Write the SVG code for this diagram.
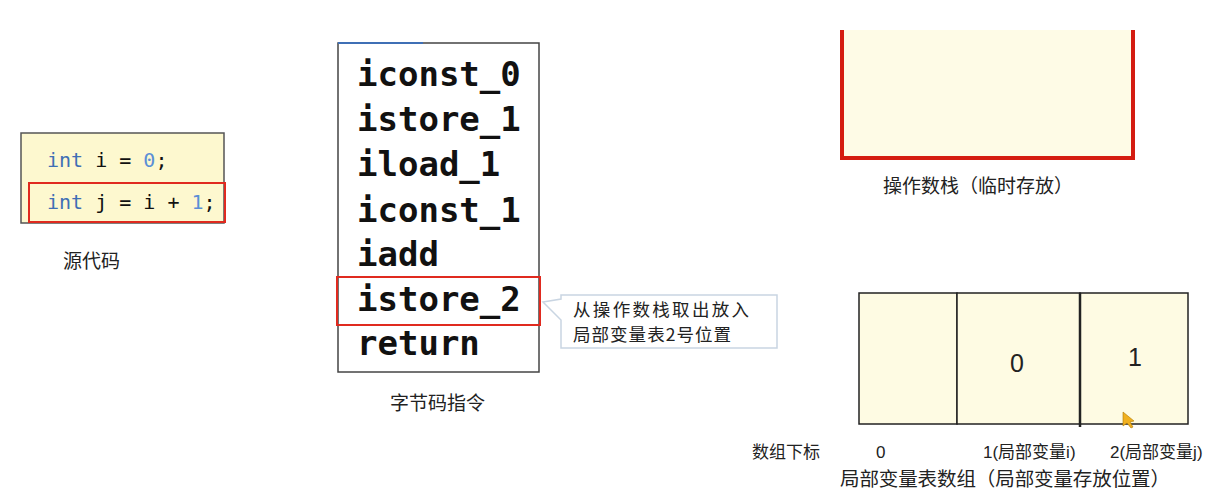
<svg xmlns="http://www.w3.org/2000/svg" width="1225" height="500" viewBox="0 0 1225 500">
<style>
.cjk{font-family:"Noto Sans CJK SC","Noto Sans",sans-serif;fill:#222;}
.code{font-family:"DejaVu Sans Mono","Liberation Mono",monospace;font-size:20px;fill:#111;}
.kw{fill:#3f6fb5;}
.num{fill:#5b8fd6;}
.bc{font-family:"DejaVu Sans Mono","Liberation Mono",monospace;font-size:34px;font-weight:bold;fill:#111;}
.red{fill:none;stroke:#e02a1f;stroke-width:2;}
.cell{fill:#fefbe3;stroke:#222;stroke-width:1.5;}
.lbl{font-family:"Liberation Sans","Noto Sans CJK SC",sans-serif;font-size:17px;fill:#222;}
</style>
<rect width="1225" height="500" fill="#ffffff"/>

<g id="source-code">
  <rect x="21" y="133" width="203" height="90" fill="#fdf8cf" stroke="#555" stroke-width="1.5"/>
  <text class="code" x="47" y="167"><tspan class="kw">int</tspan> i = <tspan class="num">0</tspan>;</text>
  <text class="code" x="47" y="209"><tspan class="kw">int</tspan> j = i + <tspan class="num">1</tspan>;</text>
  <rect class="red" x="29" y="183" width="196" height="39"/>
  <text class="cjk" x="63" y="268" font-size="19">源代码</text>
</g>

<g id="bytecode">
  <rect x="338" y="43" width="201" height="329" fill="#ffffff" stroke="#444" stroke-width="1.5"/>
  <line x1="338" y1="43" x2="423" y2="43" stroke="#3f6fb5" stroke-width="2"/>
  <text class="bc" x="357" y="86">iconst_0</text>
  <text class="bc" x="357" y="131">istore_1</text>
  <text class="bc" x="357" y="176">iload_1</text>
  <text class="bc" x="357" y="222">iconst_1</text>
  <text class="bc" x="357" y="266">iadd</text>
  <text class="bc" x="357" y="311">istore_2</text>
  <text class="bc" x="357" y="355">return</text>
  <rect class="red" x="337" y="277" width="203" height="48"/>
  <text class="cjk" x="390" y="410" font-size="19">字节码指令</text>
</g>

<g id="callout">
  <path d="M561,295 H777 V348 H561 V320 L543,302 L561,299 Z" fill="#ffffff" stroke="#c9d5e2" stroke-width="1.5"/>
  <text class="cjk" x="573" y="316" font-size="17.5" textLength="176">从操作数栈取出放入</text>
  <text class="cjk" x="573" y="341" font-size="17.5" textLength="158">局部变量表2号位置</text>
</g>

<g id="operand-stack">
  <rect x="842" y="30" width="291" height="128" fill="#fefbe6"/>
  <path d="M842,30 V158 H1133 V30" fill="none" stroke="#d41c10" stroke-width="4"/>
  <text class="cjk" x="883" y="193" font-size="19">操作数栈（临时存放）</text>
</g>

<g id="local-variables">
  <rect class="cell" x="859" y="293" width="98" height="131"/>
  <rect class="cell" x="957" y="293" width="123" height="131"/>
  <rect class="cell" x="1080" y="293" width="108" height="131"/>
  <line x1="1080" y1="293" x2="1080" y2="427" stroke="#222" stroke-width="2.5"/>
  <text x="1017" y="372" font-family="Liberation Sans,sans-serif" font-size="25" fill="#222" text-anchor="middle">0</text>
  <text x="1135" y="366" font-family="Liberation Sans,sans-serif" font-size="25" fill="#222" text-anchor="middle">1</text>
  <path d="M1123,412 L1123,426 L1127,423 L1131,428 L1133,427 L1130,422 L1134,421 Z" fill="#f0b020" stroke="#b07800" stroke-width="0.6"/>
  <text class="lbl" x="752" y="458">数组下标</text>
  <text class="lbl" x="876" y="458">0</text>
  <text class="lbl" x="983" y="458">1(局部变量i)</text>
  <text class="lbl" x="1110" y="458">2(局部变量j)</text>
  <text class="cjk" x="840" y="486" font-size="19.5" textLength="330">局部变量表数组（局部变量存放位置）</text>
</g>
</svg>
